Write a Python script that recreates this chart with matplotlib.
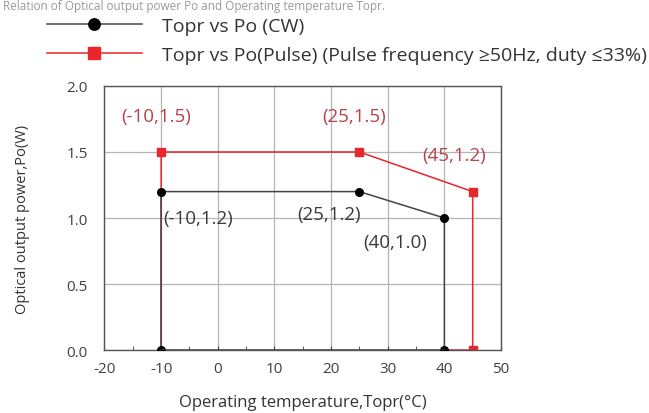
import numpy as np
import matplotlib.pyplot as plt

plt.rcParams['font.family'] = ['Open Sans', 'DejaVu Sans']
plt.rcParams['axes.unicode_minus'] = False

# CW curve
cw_t = [-10, -10, 25, 40, 40]
cw_p = [0.0, 1.2, 1.2, 1.0, 0.0]
# pulse curve
pl_t = [-10, -10, 25, 45, 45]
pl_p = [0.0, 1.5, 1.5, 1.2, 0.0]

cw_labels = ['(-10,1.2)', '(25,1.2)', '(40,1.0)']
pl_labels = ['(-10,1.5)', '(25,1.5)', '(45,1.2)']

red = '#e8262b'
red_txt = '#b8414a'
dark = '#3a3a3a'

fig = plt.figure(figsize=(6.49, 4.14), dpi=100)
ax = fig.add_axes([0.161, 0.152, 0.611, 0.638])

l1, = ax.plot(cw_t, cw_p, color='#444444', lw=1.1, marker='o', ms=5.5,
              mfc='black', mec='black', label='Topr vs Po (CW)', zorder=3)
ax.plot([cw_t[0], cw_t[-1]], [0, 0], color='#444444', lw=1.1, zorder=3)
l2, = ax.plot(pl_t, pl_p, color=red, lw=1.1, marker='s', ms=5.5,
              mfc=red, mec=red, markevery=[1, 2, 3, 4],
              label='Topr vs Po(Pulse) (Pulse frequency \u226550Hz, duty \u226433%)',
              zorder=2)
ax.plot([cw_t[-1], pl_t[-1]], [0, 0], color=red, lw=1.1, zorder=2)

# point labels
fs = 13.5
ax.text(-10.8, 1.77, pl_labels[0], color=red_txt, fontsize=fs, ha='center', va='center')
ax.text(24.0, 1.77, pl_labels[1], color=red_txt, fontsize=fs, ha='center', va='center')
ax.text(41.8, 1.48, pl_labels[2], color=red_txt, fontsize=fs, ha='center', va='center')
ax.text(-9.6, 1.0, cw_labels[0], color=dark, fontsize=fs, ha='left', va='center')
ax.text(19.6, 1.03, cw_labels[1], color=dark, fontsize=fs, ha='center', va='center')
ax.text(31.3, 0.82, cw_labels[2], color=dark, fontsize=fs, ha='center', va='center')

ax.set_xlim(-20, 50)
ax.set_ylim(0, 2.0)
ax.set_xticks(np.arange(-20, 51, 10))
ax.set_yticks([0.0, 0.5, 1.0, 1.5, 2.0])
ax.set_yticklabels(['0.0', '0.5', '1.0', '1.5', '2.0'])
ax.set_xticks(np.arange(-15, 50, 10), minor=True)
ax.grid(True, color='#b5b5b5', lw=0.9)
ax.set_axisbelow(True)
ax.tick_params(axis='both', which='both', direction='in', labelsize=11,
               colors='#404040', length=3)
ax.tick_params(axis='y', length=0, pad=12)
ax.tick_params(axis='x', pad=8)
for s in ax.spines.values():
    s.set_color('#555555')
    s.set_linewidth(1.0)

ax.set_xlabel('Operating temperature,Topr(\u00b0C)', fontsize=12, color='#333333', labelpad=13)
ax.set_ylabel('Optical output power,Po(W)', fontsize=10.5, color='#333333', labelpad=26)

fig.legend(handles=[l1, l2], loc='upper left', bbox_to_anchor=(0.045, 1.0),
           frameon=False, fontsize=14, handlelength=4.9, handletextpad=1.05,
           labelspacing=0.6, labelcolor='#333333', markerscale=1.5)

# title partly cut off at the top of the source image
fig.text(0.005, 0.999, 'Relation of Optical output power Po and Operating temperature Topr.',
         fontsize=8.5, color='#999999', ha='left', va='top')

fig.savefig('out.png', dpi=100)
